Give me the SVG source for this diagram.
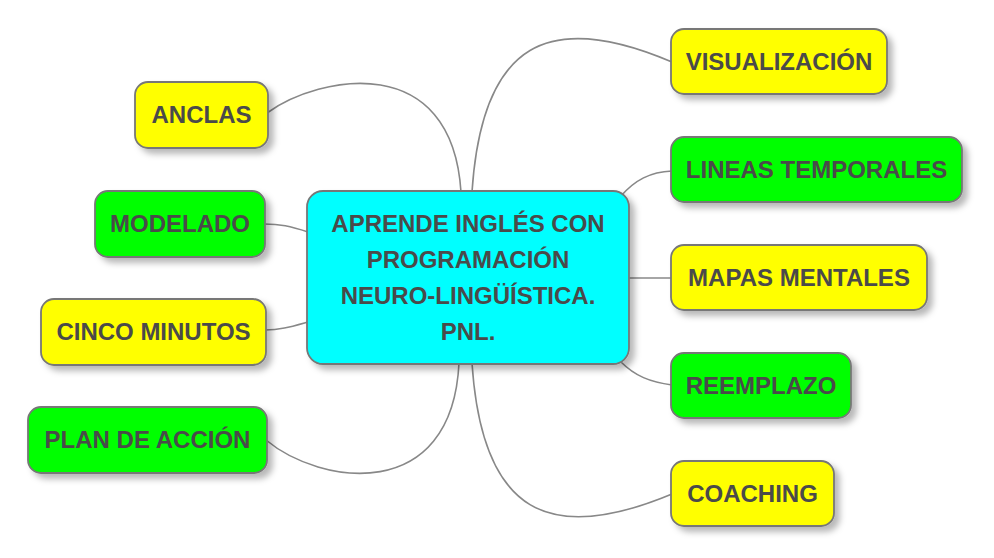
<svg xmlns="http://www.w3.org/2000/svg" width="994" height="558" viewBox="0 0 994 558">
<defs>
<filter id="sh" x="-20%" y="-30%" width="140%" height="160%">
<feDropShadow dx="5" dy="5" stdDeviation="3" flood-color="#000" flood-opacity="0.28"/>
</filter>
</defs>
<style>
.n rect{stroke:#777;stroke-width:1.8;filter:url(#sh)}
.y{fill:#ffff00}.g{fill:#00ff00}.c{fill:#00ffff}
text{font-family:"Liberation Sans",Arial,sans-serif;font-weight:bold;font-size:24px;fill:#4a4a4a;text-anchor:middle}
#connectors path{fill:none;stroke:#888;stroke-width:1.6}
</style>
<rect width="994" height="558" fill="#fff"/>
<g id="connectors">
<path d="M472,192 C482,40 550,10 672,62"/>
<path d="M621,196 C635,180 650,172 672,171"/>
<path d="M628,278 L672,278"/>
<path d="M621,362 C635,376 650,382 672,385"/>
<path d="M472,363 C482,515 550,545 672,494"/>
<path d="M461,192 C452,50 320,75 267,113"/>
<path d="M308,232 C290,226 280,224 264,224"/>
<path d="M308,322 C290,327 280,330 265,330"/>
<path d="M459,363 C452,505 320,485 266,440"/>
</g>
<g id="center" class="n">
<rect class="c" x="307" y="191" width="322" height="173" rx="16"/>
<text x="468" y="232">APRENDE INGLÉS CON</text>
<text x="468" y="268">PROGRAMACIÓN</text>
<text x="468" y="304">NEURO-LINGÜÍSTICA.</text>
<text x="468" y="340">PNL.</text>
</g>
<g id="visualizacion" class="n">
<rect class="y" x="671" y="29" width="216" height="65" rx="13"/>
<text x="779" y="70">VISUALIZACIÓN</text>
</g>
<g id="lineas" class="n">
<rect class="g" x="671" y="137" width="291" height="65" rx="13"/>
<text x="816.5" y="178">LINEAS TEMPORALES</text>
</g>
<g id="mapas" class="n">
<rect class="y" x="671" y="245" width="256" height="65" rx="13"/>
<text x="799" y="286">MAPAS MENTALES</text>
</g>
<g id="reemplazo" class="n">
<rect class="g" x="671" y="353" width="180" height="65" rx="13"/>
<text x="761" y="394">REEMPLAZO</text>
</g>
<g id="coaching" class="n">
<rect class="y" x="671" y="461" width="163" height="65" rx="13"/>
<text x="752.5" y="502">COACHING</text>
</g>
<g id="anclas" class="n">
<rect class="y" x="135" y="82" width="133" height="66" rx="13"/>
<text x="201.5" y="123">ANCLAS</text>
</g>
<g id="modelado" class="n">
<rect class="g" x="95" y="191" width="170" height="66" rx="13"/>
<text x="180" y="232">MODELADO</text>
</g>
<g id="cinco" class="n">
<rect class="y" x="41" y="299" width="225" height="66" rx="13"/>
<text x="153.5" y="340">CINCO MINUTOS</text>
</g>
<g id="plan" class="n">
<rect class="g" x="28" y="407" width="239" height="66" rx="13"/>
<text x="147.5" y="448">PLAN DE ACCIÓN</text>
</g>
</svg>
